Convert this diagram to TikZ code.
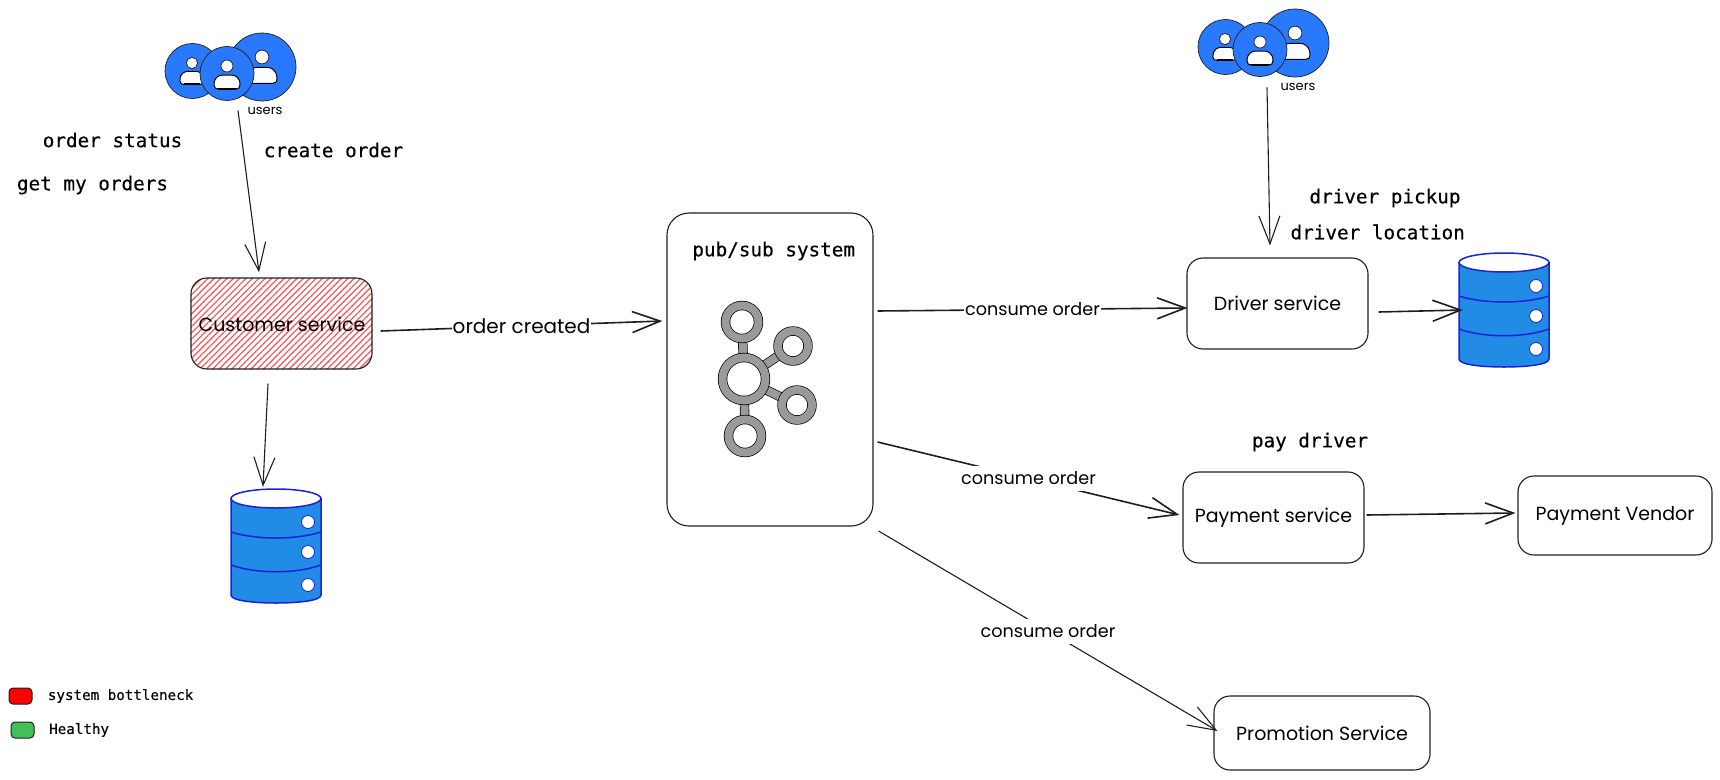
\documentclass[tikz,border=0pt]{standalone}
\usepackage{fontspec}
\usetikzlibrary{arrows.meta,backgrounds,patterns.meta}
\newfontfamily\monofont[FakeBold=0.3]{DejaVu Sans Mono}
\newfontfamily\handfont{Poppins}
\definecolor{userblue}{HTML}{2979FF}
\definecolor{dbfill}{HTML}{228BE6}
\definecolor{dbline}{HTML}{1A22D8}
\definecolor{inkdark}{HTML}{1E1E1E}
\definecolor{hatchred}{HTML}{F25F5F}
\definecolor{healthy}{HTML}{40C057}
\definecolor{ringgray}{HTML}{9A9A9A}
\begin{document}
\begin{tikzpicture}[x=1pt,y=-1pt,>={Straight Barb[length=28pt,width=21pt]},
service/.style={draw=inkdark,line width=1.1pt,rounded corners=16pt,inner sep=0pt,font=\handfont\fontsize{19}{22}\selectfont},
flow/.style={->,draw=inkdark,line width=1.1pt},
heavyflow/.style={flow,line width=1.6pt},
edgelabel/.style={fill=white,inner sep=1pt,minimum height=25pt,font=\handfont\fontsize{17.6}{20}\selectfont},
monolabel/.style={inner sep=0pt,font=\monofont\fontsize{19.3}{22}\selectfont},
legendlabel/.style={anchor=west,inner sep=0pt,font=\monofont\fontsize{14.2}{16}\selectfont},
swatch/.style={draw=inkdark,line width=1pt,rounded corners=4pt,inner sep=0pt,minimum width=23pt,minimum height=16pt},
atom/.style={circle,fill=white,draw=black,line width=.7pt,double=ringgray,double distance=8pt,inner sep=0pt,minimum size=#1},
bond/.style={draw=black,line width=.7pt,double=ringgray,double distance=8pt},
usercircle/.style={circle,fill=userblue,draw=inkdark,line width=.7pt,inner sep=0pt,minimum size=#1},
person/.pic={
    \draw[fill=white,draw=inkdark,line width=.7pt] (0,0) circle (6);
    \draw[fill=white,draw=black,line width=1pt] (-13,19) .. controls (-13,11) and (-8,9) .. (-4,9) -- (4,9)
        .. controls (8,9) and (13,11) .. (13,19) .. controls (13,22) and (11,23) .. (9,23) -- (-9,23)
        .. controls (-11,23) and (-13,22) .. (-13,19) -- cycle;
    \draw[black,line width=1.8pt] (-9,23) -- (9,23);
},
usersgroup/.pic={
    \node[usercircle=55pt] (-left) at (-34.5,-2.5) {};
    \pic[scale=.93] at (-35,-10.5) {person};
    \node[usercircle=68pt] (-right) at (35,-6.5) {};
    \pic[scale=1.15] at (35,-16.5) {person};
    \node[usercircle=54pt] (-mid) at (0,0) {};
    \pic at (0,-7.5) {person};
    \node[inner sep=0pt,font=\handfont\fontsize{13}{15}\selectfont] (-label) at (38,37.5) {users};
},
dbstack/.pic={
    \node[inner sep=0pt,minimum width=90pt,minimum height=114pt] (-body) at (0,0) {};
    \draw[draw=dbline,line width=1.5pt,fill=dbfill] (-45,-47.5) -- (-45,49) .. controls (-45,55) and (-20,57) .. (0,57)
        .. controls (20,57) and (45,55) .. (45,49) -- (45,-47.5) -- cycle;
    \draw[draw=dbline,line width=1.5pt,fill=white] (0,-47.5) ellipse [x radius=45,y radius=9.5];
    \draw[draw=dbline,line width=1.5pt] (-45,-14) .. controls (-20,-6) and (20,-6) .. (45,-14);
    \draw[draw=dbline,line width=1.5pt] (-45,19) .. controls (-20,28) and (20,28) .. (45,19);
    \foreach \holey in {-24,6,39}{
        \draw[draw=dbline,line width=.8pt,fill=white] (32,\holey) circle (6.5);
    }
}]
\useasboundingbox (0,0) rectangle (1720,779);
\node[service,minimum width=181pt,minimum height=91pt,
    pattern={Lines[angle=45,distance=4.5pt,line width=1.3pt]},pattern color=hatchred] (customer) at (281.5,323.5) {};
\node[inner sep=0pt,font=\handfont\fontsize{19}{22}\selectfont] (customertext) at (282,324) {Customer service};
\node[service,minimum width=206pt,minimum height=313pt,rounded corners=22pt] (pubsub) at (770,369.5) {};
\node[service,minimum width=181pt,minimum height=91pt] (driver) at (1277.5,303.5) {Driver service};
\node[service,minimum width=181pt,minimum height=91pt] (payment) at (1273.5,517.5) {Payment service};
\node[service,minimum width=194pt,minimum height=79pt] (vendor) at (1615,515.5) {Payment Vendor};
\node[service,minimum width=216pt,minimum height=74pt] (promotion) at (1322,733) {Promotion Service};

\pic (usersA) at (227,73.5) {usersgroup};
\pic (usersB) at (1260,49.5) {usersgroup};
\pic (dbA) at (276,546) {dbstack};
\pic (dbB) at (1504,310) {dbstack};

\node[atom=43pt] (hub) at (744,379) {};
\node[atom=33pt] (atomtop) at (742,322) {};
\node[atom=30pt] (atomupper) at (793,346) {};
\node[atom=30pt] (atomlower) at (797,405) {};
\node[atom=33pt] (atombottom) at (745,436) {};
\begin{pgfonlayer}{background}
    \draw[bond] (hub) -- (atomtop);
    \draw[bond] (hub) -- (atomupper);
    \draw[bond] (hub) -- (atomlower);
    \draw[bond] (hub) -- (atombottom);
\end{pgfonlayer}

\node[monolabel] (orderstatus) at (112.5,140) {order status};
\node[monolabel] (createorder) at (333.5,150) {create order};
\node[monolabel] (getorders) at (92.5,185) {get my orders};
\node[monolabel] (pubsubtitle) at (773.7,251) {pub/sub system};
\node[monolabel] (driverpickup) at (1385,198) {driver pickup};
\node[monolabel] (driverlocation) at (1377.7,232) {driver location};
\node[monolabel] (paydriver) at (1310,442) {pay driver};

\node[swatch,fill=red] (swatchred) at (20.5,696) {};
\node[swatch,fill=healthy] (swatchgreen) at (22.5,730) {};
\node[legendlabel] (legendred) at (47.7,696) {system bottleneck};
\node[legendlabel] (legendgreen) at (49,730) {Healthy};

\draw[flow] ([shift={(11,9.5)}]usersA-mid.south) -- ([shift={(-22.5,-5)}]customer.north);
\draw[flow] ([shift={(7,10.5)}]usersB-mid.south) -- ([shift={(-7.5,-12)}]driver.north);
\draw[flow] ([shift={(-13.5,14)}]customer.south) -- ([shift={(-13,-2)}]dbA-body.north);
\draw[heavyflow] ([shift={(8,7.5)}]customer.east) -- node[edgelabel,font=\handfont\fontsize{20}{22}\selectfont] (ordercreated) {order created} ([shift={(-4,-48.5)}]pubsub.west);
\draw[heavyflow] ([shift={(4,-58.5)}]pubsub.east) -- node[edgelabel] (consumedriver) {consume order} ([shift={(1,4.5)}]driver.west);
\draw[heavyflow] ([shift={(4,72.5)}]pubsub.east) -- node[edgelabel] (consumepayment) {consume order} ([shift={(-3,-2.5)}]payment.west);
\draw[flow] ([shift={(5,161.5)}]pubsub.east) -- node[edgelabel] (consumepromotion) {consume order} ([shift={(4,-2)}]promotion.west);
\draw[heavyflow] ([shift={(2,-2.5)}]payment.east) -- ([shift={(-2,-2.5)}]vendor.west);
\draw[heavyflow] ([shift={(10,8.5)}]driver.east) -- ([shift={(4,0)}]dbB-body.west);
\end{tikzpicture}
\end{document}
